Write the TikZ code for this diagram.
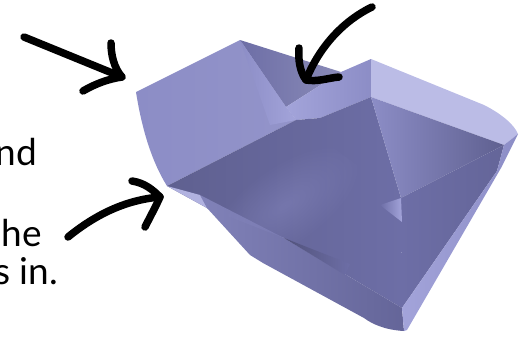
\documentclass[tikz,border=0pt]{standalone}
\usepackage{fontspec}
\setmainfont{Lato}
\usetikzlibrary{fadings}
\definecolor{facemid}{HTML}{8C8DC6}
\definecolor{facedark}{HTML}{5F6090}
\definecolor{faceslate}{HTML}{6D6EA6}
\definecolor{facelight}{HTML}{BBBCE6}
\definecolor{facepale}{HTML}{A3A4DA}
\tikzfading[name=softblob, inner color=transparent!60, outer color=transparent!100]
\tikzset{
    bigarrow/.style={
        line width=7.5pt,
        line cap=round,
        line join=round,
        black
    },
    sidetext/.style={
        anchor=base east,
        inner sep=0pt,
        font=\fontsize{37pt}{40pt}\selectfont
    }
}

\begin{document}
\begin{tikzpicture}[x=1pt,y=-1pt]

    \useasboundingbox (0,0) rectangle (527,338);

    % Text cut off at the left edge
    \node[sidetext] (textnd) at (37,165) {nd};
    \node[sidetext] (texthe) at (42,246) {he};
    \node[sidetext] (textin) at (58,284) {s in.};

    % Left face
    \shade[left color=facemid, right color=facemid!94!white]
        (136,92) -- (240,40) -- (286,107) -- (296,120)
        -- (167,186)
        .. controls (152,162) and (142,130) .. cycle;

    % Notch back wall
    \shade[shading angle=70, left color=faceslate, right color=faceslate!80!white]
        (240,40) -- (341,72) -- (286,107) -- cycle;

    % Sliver between notch and left face
    \shade[left color=facemid, right color=facepale]
        (240,40) -- (286,107) -- (296,120) -- (270,125) -- cycle;

    % Band under the notch
    \shade[shading angle=70, left color=facepale, right color=facemid]
        (286,107) -- (341,72) -- (371,59) -- (371,97)
        -- (320,118) -- (296,120) -- cycle;

    % Top right band
    \fill[facelight]
        (371,59) -- (484,105)
        .. controls (500,113) and (514,124) .. (518,134)
        -- (504,145) -- (371,97) -- cycle;

    % Big dark front face
    \shade[shading angle=20, left color=facedark, right color=faceslate]
        (167,186) -- (296,120) -- (320,118) -- (371,97)
        -- (401,198) -- (402,308) -- (284,238) -- (207,208) -- cycle;

    % Light sliver under the left corner
    \fill[facepale!85!white]
        (167,186) -- (200,195) -- (226,222) -- (207,208) -- cycle;

    % Lower left band
    \shade[shading angle=45, left color=facemid!75!facedark, right color=faceslate!92!black]
        (200,195) -- (284,238) -- (402,308) -- (404,331)
        .. controls (385,330) and (372,324) .. (364,318)
        -- (263,263) -- (250,255) -- (207,208) -- cycle;

    % Soft light patch on the front face
    \begin{scope}
        \clip (167,186) -- (296,120) -- (401,198) -- (402,308) -- (284,238) -- (207,208) -- cycle;
        \begin{scope}[transform canvas={rotate around={35:(285,205)}}]
            \fill[facemid, path fading=softblob]
                (195,165) rectangle (375,245);
        \end{scope}
    \end{scope}

    % Dark strip along the lower crease
    \shade[left color=facedark!85!black, right color=faceslate]
        (284,238) -- (350,264) -- (345,275) -- cycle;

    % Wedge between the two upper creases
    \shade[shading angle=25, left color=facemid, right color=facedark]
        (371,97) -- (504,145) -- (401,198) -- cycle;

    % Right lower face
    \shade[shading angle=90, left color=faceslate, right color=faceslate!92!black]
        (401,198) -- (504,145) -- (497,171) -- (402,308) -- cycle;

    % Small bright facet at the centre
    \shade[shading angle=60, left color=faceslate, right color=facepale]
        (380,205) -- (401,198) -- (402,222) -- cycle;

    % Right hand band
    \shade[shading angle=120, left color=facepale, right color=facemid]
        (518,134) -- (504,145) -- (497,171) -- (402,308)
        -- (404,331) -- (407,330) -- (501,168) -- cycle;

    % First arrow
    \coordinate (arrowatip) at (122,77);
    \draw[bigarrow]
        (24,37) -- (arrowatip);
    \draw[bigarrow]
        (111,43) .. controls (111,55) and (114,68) .. (arrowatip)
        .. controls (108,79) and (95,84) .. (83,91);

    % Second arrow
    \coordinate (arrowbtip) at (306,80);
    \draw[bigarrow]
        (372,7) .. controls (345,20) and (320,45) .. (arrowbtip);
    \draw[bigarrow]
        (299,48) .. controls (298,60) and (300,72) .. (arrowbtip)
        .. controls (318,82) and (328,78) .. (339,77);

    % Third arrow
    \coordinate (arrowctip) at (160,197);
    \draw[bigarrow]
        (68,237) .. controls (95,215) and (125,200) .. (arrowctip);
    \draw[bigarrow]
        (132,181) .. controls (145,183) and (153,190) .. (arrowctip)
        .. controls (155,208) and (150,217) .. (145,227);

\end{tikzpicture}
\end{document}
